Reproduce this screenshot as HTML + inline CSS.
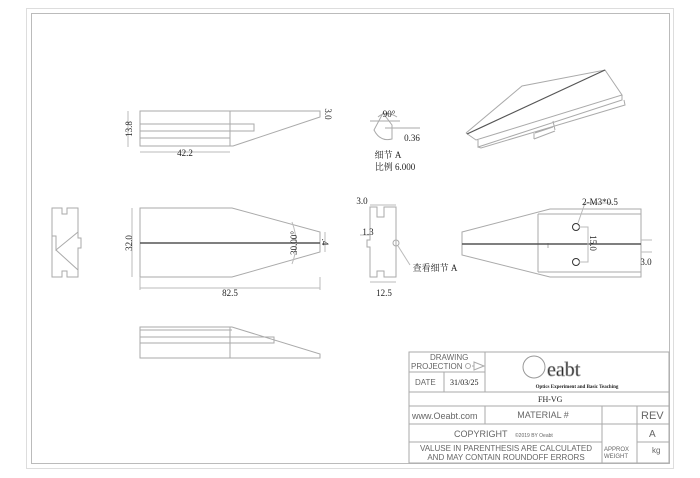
<!DOCTYPE html>
<html><head><meta charset="utf-8"><style>
body{margin:0;background:#fff}
svg{display:block}
text{font-family:"Liberation Serif","Noto Serif CJK SC",serif;fill:#222}
.s{font-family:"Liberation Sans",sans-serif;fill:#666}
</style></head><body>
<svg width="700" height="478" viewBox="0 0 700 478" xmlns="http://www.w3.org/2000/svg">
<g fill="none" stroke="#aaa" stroke-width="1">
<rect x="26.5" y="8.5" width="647" height="460" stroke="#ddd"/>
<rect x="31.5" y="13.5" width="638" height="450" stroke="#bbb"/>
<!-- top view -->
<path d="M140 111H320V117L233 146H140ZM140 111V146M230 111V146M140 124H254V131H140M140 138H230"/>
<path d="M128 111V147M140 152H230" stroke="#bbb"/>
<!-- detail A -->
<path d="M383 113L374 130Q380 142 392 139L392 125Z M370 121L400 121M385 128H420M378 117Q386 110 397 117"/>
<!-- front view -->
<path d="M140 208H232L320 232V252L232 277H140Z"/>
<path d="M140 243H320" stroke="#555" stroke-width="1.5"/>
<path d="M132 208V277M140 288H320M320 277V290M140 277V290M325 232V252" stroke="#bbb"/>
<path d="M292 222Q300 243 292 264" stroke="#bbb"/>
<!-- left end view -->
<path d="M52 208H62V214H67V208H78V232L56 250V236H52ZM52 236H56V250L78 270V277H67V271H62V277H52ZM78 232V238H81V248H78V270"/>
<!-- side view -->
<path d="M370 207H377V217H384V207H396V277H384V271H377V277H370V247H367V240H370Z"/>
<circle cx="396" cy="243" r="3"/>
<path d="M398 246L410 265" stroke="#bbb"/>
<path d="M370 205H396M360 235H370M370 282H396" stroke="#bbb"/>
<!-- right view -->
<path d="M462 232L550 209H641V277H550L462 255ZM538 214V272M538 214H641M538 272H641M548 243V248"/>
<path d="M462 244H641" stroke="#555" stroke-width="1.5"/>
<circle cx="576" cy="227" r="3.5" stroke="#333"/>
<circle cx="576" cy="262" r="3.5" stroke="#333"/>
<path d="M579 227H588V262H579M578 223L585 203H612M641 240H652M641 252H652" stroke="#bbb"/>
<!-- iso view -->
<path d="M466 133L522 86L605 70L622 95L476 140L466 133M622 95V100L478 147V140M624 100L625 105L481 148L478 147M553 121L555 130M535 133L553 127M534 139L555 131M534 133V139"/>
<path d="M467 134L605 70" stroke="#555" stroke-width="1.2"/>
<!-- bottom view -->
<path d="M140 327H232L320 354V358H140ZM140 330H232M140 337H274V343H140M230 327V358"/>
<!-- title block -->
<path d="M409 352H669V463H409ZM485 352V392M409 372H485M409 392H669M444 372V392M409 406H669M409 424H669M409 442H602M485 406V424M602 406V463M637 406V463M637 442H669"/>
<circle cx="468" cy="366" r="2.5"/><path d="M472 366H474L474 362L484 366L474 370V366"/>
<circle cx="534" cy="367" r="11" stroke="#999"/>
</g>
<g font-size="9" text-anchor="middle">
<text x="185" y="156">42.2</text>
<text x="230" y="296">82.5</text>
<text x="384" y="296">12.5</text>
<text x="362" y="204">3.0</text>
<text x="368" y="235">1.3</text>
<text x="435" y="271">查看细节 A</text>
<text x="389" y="117">90°</text>
<text x="412" y="141">0.36</text>
<text x="388" y="158">细节 A</text>
<text x="395" y="170">比例 6.000</text>
<text x="600" y="205">2-M3*0.5</text>
<text x="646" y="265">3.0</text>
<text transform="translate(132,129) rotate(-90)">13.8</text>
<text transform="translate(132,243) rotate(-90)">32.0</text>
<text transform="translate(297,243) rotate(-90)">30.00°</text>
<text transform="translate(325,114) rotate(90)">3.0</text>
<text transform="translate(322,242) rotate(90)">.4</text>
<text transform="translate(590,243) rotate(90)">15.0</text>
</g>
<g class="s" font-size="8">
<text x="430" y="360" class="s">DRAWING</text>
<text x="411" y="369" class="s">PROJECTION</text>
<text x="415" y="385" class="s">DATE</text>
<text x="652" y="453" class="s">kg</text>
<text x="604" y="451" class="s" font-size="6">APPROX</text>
<text x="604" y="458" class="s" font-size="6">WEIGHT</text>
</g>
<text x="450" y="385" font-size="8">31/03/25</text>
<text x="538" y="402" font-size="8">FH-VG</text>
<text x="547" y="376" font-size="20" font-family="Liberation Sans" fill="#fff" stroke="#999" stroke-width=".7">eabt</text>
<text x="577" y="388" text-anchor="middle" font-size="5" font-family="Liberation Sans" font-weight="bold" fill="#555">Optics Experiment and Basic Teaching</text>
<g class="s" font-size="9">
<text x="412" y="419" class="s">www.Oeabt.com</text>
<text x="543" y="418" text-anchor="middle" class="s">MATERIAL  #</text>
<text x="641" y="419" class="s" font-size="11">REV</text>
<text x="649" y="437" class="s" font-size="10">A</text>
<text x="454" y="437" class="s">COPYRIGHT</text>
<text x="515" y="437" class="s" font-size="5">©2019 BY Oeabt</text>
<text x="506" y="451" text-anchor="middle" class="s" font-size="8">VALUSE IN PARENTHESIS ARE CALCULATED</text>
<text x="506" y="460" text-anchor="middle" class="s" font-size="8">AND MAY CONTAIN ROUNDOFF ERRORS</text>
</g>
</svg>
</body></html>
